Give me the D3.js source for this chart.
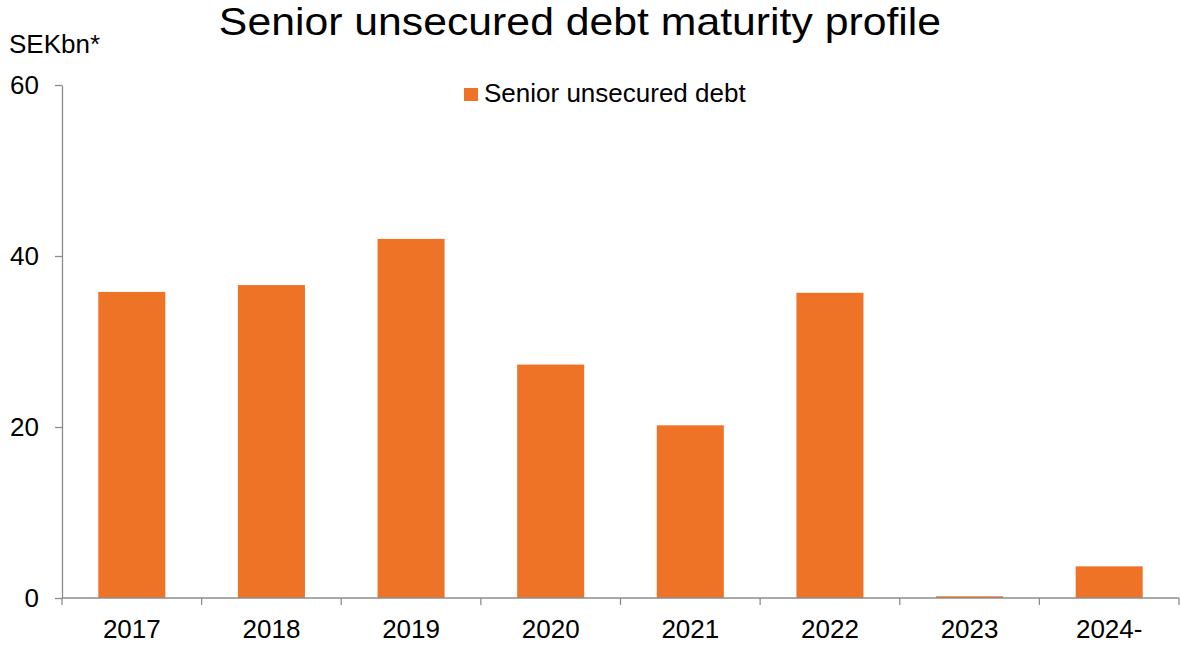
<!DOCTYPE html>
<html>
<head>
<meta charset="utf-8">
<script src="https://cdn.jsdelivr.net/npm/d3@7"></script>
<style>
  html, body { margin: 0; padding: 0; background: #fff; }
  svg text { font-family: "Liberation Sans", Arial, sans-serif; fill: #000; }
</style>
</head>
<body>
<svg id="chart" width="1181" height="646"></svg>
<script>
// Maturity years and outstanding senior unsecured debt (SEK bn)
const categories = ["2017", "2018", "2019", "2020", "2021", "2022", "2023", "2024-"];
const seniorDebt = [35.8, 36.6, 42.0, 27.3, 20.2, 35.7, 0.2, 3.7];
const yTicks = [0, 20, 40, 60];
const seriesName = "Senior unsecured debt";
const barColor = "#EE7326";
const axisColor = "#8C8C8C";

const svg = d3.select("#chart");
const plot = { left: 62, right: 1179, top: 85, bottom: 598 };

const x = d3.scaleBand()
  .domain(categories)
  .range([plot.left, plot.right])
  .paddingInner(0.52)
  .paddingOuter(0.26);

const y = d3.scaleLinear()
  .domain([0, 60])
  .range([plot.bottom, plot.top]);

// Title (slightly widened lettering)
svg.append("text")
  .attr("transform", "translate(580,35) scale(1.125,1)")
  .attr("text-anchor", "middle")
  .style("font-size", "38px")
  .text("Senior unsecured debt maturity profile");

// Unit label
svg.append("text")
  .attr("x", 9).attr("y", 53)
  .style("font-size", "26px")
  .text("SEKbn*");

// Bars
svg.append("g").selectAll("rect")
  .data(categories.map((c, i) => ({ c, v: seniorDebt[i] })))
  .join("rect")
  .attr("x", d => x(d.c))
  .attr("width", x.bandwidth())
  .attr("y", d => y(d.v))
  .attr("height", d => y(0) - y(d.v))
  .attr("fill", barColor);

// Y axis
const yAxis = svg.append("g")
  .attr("transform", `translate(${plot.left},0)`)
  .call(d3.axisLeft(y).tickValues(yTicks).tickSize(7).tickPadding(16).tickSizeOuter(0));
yAxis.select(".domain").attr("stroke", axisColor).attr("stroke-width", 1.3);
yAxis.selectAll(".tick line").attr("stroke", axisColor).attr("stroke-width", 1.3);
yAxis.selectAll(".tick text").style("font-size", "26px").attr("fill", "#000")
  .style("font-family", "Liberation Sans, Arial, sans-serif");

// X axis: ticks sit on category boundaries
const xAxisG = svg.append("g")
  .attr("transform", `translate(0,${plot.bottom})`);
xAxisG.append("line")
  .attr("x1", plot.left).attr("x2", plot.right)
  .attr("stroke", axisColor).attr("stroke-width", 1.3);
const step = x.step();
const boundaries = categories.map((c, i) => x(c) - x.paddingInner() * step / 2).concat([plot.right]);
xAxisG.selectAll("line.tick")
  .data(boundaries)
  .join("line")
  .attr("class", "tick")
  .attr("x1", d => d).attr("x2", d => d)
  .attr("y1", 0).attr("y2", 7)
  .attr("stroke", axisColor).attr("stroke-width", 1.3);
xAxisG.selectAll("text")
  .data(categories)
  .join("text")
  .attr("x", d => x(d) + x.bandwidth() / 2)
  .attr("y", 40)
  .attr("text-anchor", "middle")
  .style("font-size", "26px")
  .text(d => d);

// Legend
const legend = svg.append("g").attr("transform", "translate(464,88)");
legend.append("rect").attr("width", 14).attr("height", 13).attr("fill", barColor);
legend.append("text").attr("x", 20).attr("y", 14)
  .style("font-size", "26px")
  .text(seriesName);
</script>
</body>
</html>
